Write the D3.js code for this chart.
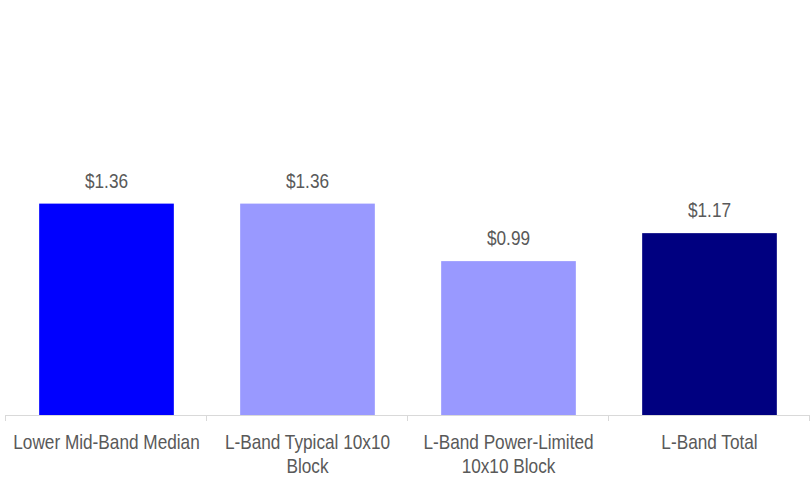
<!DOCTYPE html>
<html>
<head>
<meta charset="utf-8">
<script src="https://cdn.jsdelivr.net/npm/d3@7"></script>
<style>
  html, body { margin: 0; padding: 0; background: #fff; }
  svg { display: block; }
  text { font-family: "Liberation Sans", Arial, sans-serif; fill: #595959; }
</style>
</head>
<body>
<svg id="chart" width="811" height="477"></svg>
<script>
// Cost per MHz-pop by band
const categories = ["Lower Mid-Band Median", "L-Band Typical 10x10 Block", "L-Band Power-Limited 10x10 Block", "L-Band Total"];
const values = [1.36, 1.36, 0.99, 1.17];
const valueLabels = ["$1.36", "$1.36", "$0.99", "$1.17"];
const barColors = ["#0000ff", "#9999ff", "#9999ff", "#000080"];

const W = 811, H = 477;
const plot = { left: 6, right: 810, baseline: 415 };
// Condensed lettering: regular sans squeezed horizontally
const narrow = 0.82;

const svg = d3.select("#chart");

// Category slots (axis ticks sit at slot boundaries)
const xSlot = d3.scaleBand().domain(categories).range([plot.left, plot.right]).padding(0);
// Bars inside each slot
const x = d3.scaleBand().domain(categories).range([plot.left, plot.right])
  .paddingInner(0.33).paddingOuter(0.165);
const y = d3.scaleLinear().domain([0, 2.67]).range([plot.baseline, 0]);

// Bars
svg.append("g").selectAll("rect")
  .data(categories)
  .join("rect")
  .attr("x", d => x(d))
  .attr("width", x.bandwidth())
  .attr("y", (d, i) => y(values[i]))
  .attr("height", (d, i) => y(0) - y(values[i]))
  .attr("fill", (d, i) => barColors[i]);

// Value labels above bars
svg.append("g").selectAll("text")
  .data(categories)
  .join("text")
  .attr("transform", (d, i) =>
    `translate(${x(d) + x.bandwidth() / 2},${y(values[i]) - 16}) scale(${narrow},1)`)
  .attr("text-anchor", "middle")
  .style("font-size", "21px")
  .text((d, i) => valueLabels[i]);

// Category axis: baseline with tick marks at slot boundaries
const axis = svg.append("g").attr("class", "x-axis");
const tickXs = categories.map(c => xSlot(c)).concat([xSlot.range()[1]]);
axis.append("line")
  .attr("x1", plot.left).attr("x2", plot.right)
  .attr("y1", plot.baseline + 0.5).attr("y2", plot.baseline + 0.5)
  .attr("stroke", "#d9d9d9").attr("stroke-width", 1);
axis.selectAll("line.tick")
  .data(tickXs)
  .join("line")
  .attr("class", "tick")
  .attr("x1", d => Math.round(d) - 0.5).attr("x2", d => Math.round(d) - 0.5)
  .attr("y1", plot.baseline).attr("y2", plot.baseline + 6)
  .attr("stroke", "#d9d9d9").attr("stroke-width", 1);

// Category labels, wrapped to the slot width
const labels = axis.selectAll("text.cat")
  .data(categories)
  .join("text")
  .attr("class", "cat")
  .attr("text-anchor", "middle")
  .style("font-size", "21px")
  .attr("transform", d => `translate(${xSlot(d) + xSlot.bandwidth() / 2},449) scale(${narrow},1)`);

labels.each(function(d) {
  const t = d3.select(this);
  const maxW = xSlot.bandwidth() - 6;
  const words = d.split(" ");
  let line = [];
  let tspan = t.append("tspan").attr("x", 0).attr("dy", 0);
  for (const w of words) {
    line.push(w);
    tspan.text(line.join(" "));
    if (tspan.node().getComputedTextLength() * narrow > maxW && line.length > 1) {
      line.pop();
      tspan.text(line.join(" "));
      line = [w];
      tspan = t.append("tspan").attr("x", 0).attr("dy", 24).text(w);
    }
  }
});
</script>
</body>
</html>
